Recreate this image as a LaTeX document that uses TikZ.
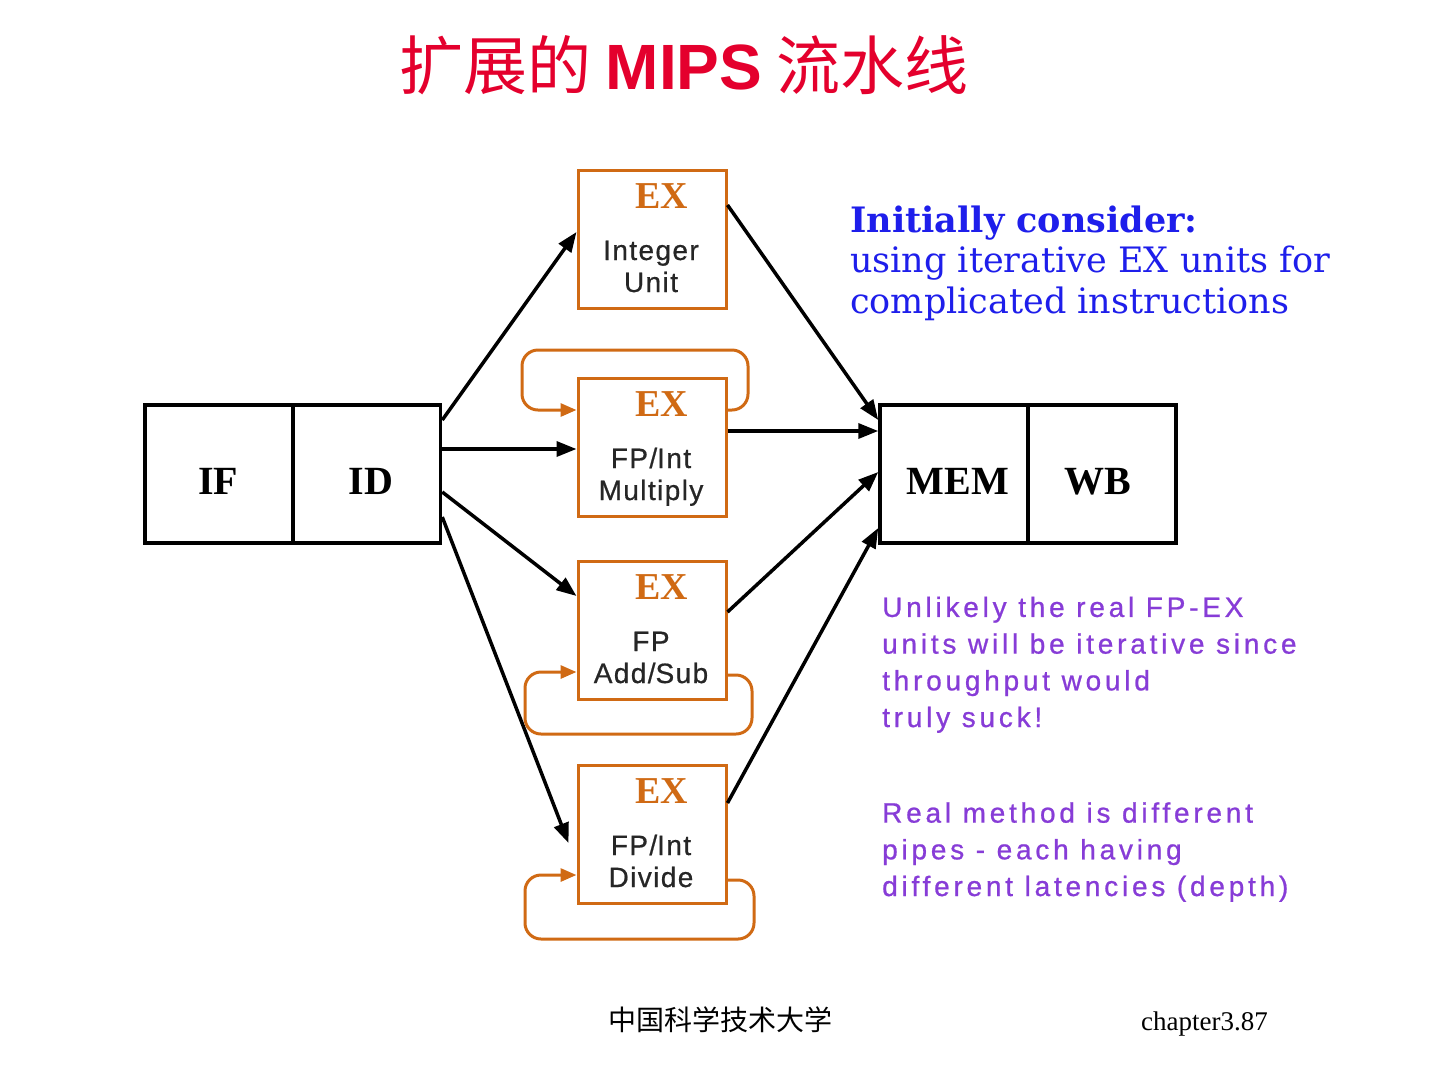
\documentclass[tikz,border=0pt]{standalone}
\usepackage{fontspec}
\usetikzlibrary{arrows.meta,calc}
\newfontfamily\cjkf{Noto Sans CJK SC}
\newfontfamily\arialf{Liberation Sans}
\newfontfamily\unitf{Liberation Sans}[LetterSpace=5,FakeBold=0.6]
\newfontfamily\purplef{Liberation Sans}[LetterSpace=13.5,FakeBold=0.8]
\newfontfamily\timesf{Liberation Serif}
\newfontfamily\dserif{DejaVu Serif}
\definecolor{titlered}{RGB}{228,0,45}
\definecolor{exorange}{RGB}{208,106,20}
\definecolor{noteblue}{RGB}{30,30,235}
\definecolor{notepurple}{RGB}{135,60,215}
\begin{document}
\begin{tikzpicture}[x=1pt,y=-1pt,
  stage/.style={draw=black,line width=3.5pt,minimum width=148pt,minimum height=138pt,inner sep=0pt},
  exbox/.style={draw=exorange,line width=3pt,minimum width=148pt,minimum height=138pt,inner sep=0pt},
  stagetxt/.style={anchor=base,inner sep=0pt,font=\timesf\bfseries\fontsize{40}{40}\selectfont},
  extxt/.style={anchor=base,inner sep=0pt,text=exorange,font=\timesf\bfseries\fontsize{38}{38}\selectfont},
  unittxt/.style={anchor=base,inner sep=0pt,text=black!85,font=\unitf\fontsize{28}{28}\selectfont},
  arr/.style={draw=black,line width=3.5pt,-{Triangle[length=20pt,width=15pt]}},
  oarr/.style={draw=exorange,line width=3pt,rounded corners=16pt,-{Triangle[length=16pt,width=13pt]}},
  bluetxt/.style={anchor=base west,inner sep=0pt,text=noteblue,align=left,font=\dserif\fontsize{35}{40.5}\selectfont},
  purptxt/.style={anchor=base west,inner sep=0pt,text=notepurple,align=left,font=\purplef\fontsize{28}{36.7}\selectfont}
]
\fill[white] (0,0) rectangle (1440,1080);
\useasboundingbox (0,0) rectangle (1440,1080);

% title
\node[inner sep=0pt,text=titlered] (title) at (684,65)
  {\cjkf\fontsize{64}{64}\selectfont 扩展的 {\arialf\bfseries MIPS} 流水线};

% stages
\node[stage] (IF) at (219,474) {};
\node[stage] (ID) at (366.5,474) {};
\node[stage] (MEM) at (954,474) {};
\node[stage] (WB) at (1102,474) {};
\node[stagetxt] (IFt) at (218,494) {IF};
\node[stagetxt] (IDt) at (371,494) {ID};
\node[stagetxt] (MEMt) at (958,494) {MEM};
\node[stagetxt] (WBt) at (1098,494) {WB};

% EX units
\node[exbox] (E1) at (652,239) {};
\node[exbox] (E2) at (652,447) {};
\node[exbox] (E3) at (652,630) {};
\node[exbox] (E4) at (652,834) {};
\foreach \n/\t/\a/\b in {E1/170/Integer/Unit, E2/378/FP\slash Int/Multiply, E3/561/FP/Add\slash Sub, E4/765/FP\slash Int/Divide}{
  \node[extxt] (\n x) at (662,\t+38) {EX};
  \node[unittxt] (\n a) at (651,\t+90) {\a};
  \node[unittxt] (\n b) at (651,\t+122) {\b};
}

% ID -> EX
\draw[arr] ($(ID.east)+(0,-54)$) -- ($(E1.west)+(0,-7)$);
\draw[arr] ($(ID.east)+(0,-25)$) -- ($(E2.west)+(0,2)$);
\draw[arr] ($(ID.east)+(0,18)$) -- ($(E3.west)+(0,-34)$);
\draw[arr] ($(ID.east)+(0,43)$) -- ($(E4.west)+(-8,9)$);
% EX -> MEM
\draw[arr] ($(E1.east)+(0,-34)$) -- ($(MEM.west)+(0,-54)$);
\draw[arr] ($(E2.east)+(0,-16)$) -- ($(MEM.west)+(0,-43)$);
\draw[arr] ($(E3.east)+(0,-18)$) -- ($(MEM.west)+(0,-2)$);
\draw[arr] ($(E4.east)+(0,-31)$) -- ($(MEM.west)+(0,54)$);

% iteration loops
\draw[oarr] ($(E2.east)+(0,-37)$) -| (748,350) -| (522,410) -- ($(E2.west)+(0,-37)$);
\draw[oarr] ($(E3.east)+(0,45)$) -| (752,734) -| (525,672) -- ($(E3.west)+(0,42)$);
\draw[oarr] ($(E4.east)+(0,46)$) -| (754,939) -| (525,875) -- ($(E4.west)+(0,41)$);

% notes (anchor base west = baseline of the last line)
\node[bluetxt] (n1) at (850,313) {{\bfseries Initially consider:}\\using iterative EX units for\\complicated instructions};
\node[purptxt] (n2) at (882,727) {Unlikely the real FP-EX\\units will be iterative since\\throughput would\\truly suck!};
\node[purptxt] (n3) at (882,896) {Real method is different\\pipes - each having\\different latencies (depth)};

% footer
\node[inner sep=0pt] (foot1) at (720,1020) {\cjkf\fontsize{28}{28}\selectfont 中国科学技术大学};
\node[inner sep=0pt,anchor=base east] (foot2) at (1268,1030) {\timesf\fontsize{27}{27}\selectfont chapter3.87};
\end{tikzpicture}
\end{document}
